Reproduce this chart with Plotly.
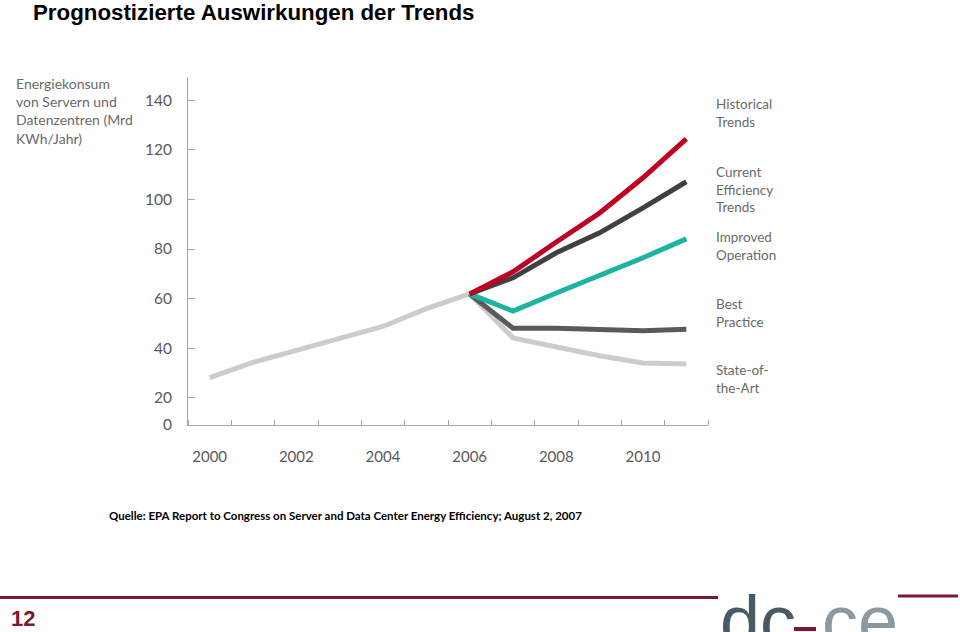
import plotly.graph_objects as go

years_hist = [2000, 2001, 2002, 2003, 2004, 2005, 2006]
historical = [28.2, 34.3, 39.2, 44.1, 48.8, 56.0, 61.9]

years_proj = [2006, 2007, 2008, 2009, 2010, 2011]
hist_trends = [61.9, 70.8, 82.8, 94.5, 108.7, 124.4]
current_eff = [61.9, 68.4, 78.5, 86.5, 96.6, 107.1]
improved_op = [61.9, 55.0, 62.3, 69.2, 76.5, 84.1]
best_practice = [61.9, 48.1, 48.1, 47.8, 47.1, 47.7]
state_of_art = [61.9, 44.2, 40.5, 37.0, 34.1, 33.7]

y_tickvals = [9.1, 20, 40, 60, 80, 100, 120, 140]
y_ticktext = ["0", "20", "40", "60", "80", "100", "120", "140"]
x_tickvals = [2000, 2002, 2004, 2006, 2008, 2010]

series_labels = ["Historical<br>Trends", "Current<br>Efficiency<br>Trends",
                 "Improved<br>Operation", "Best<br>Practice", "State-of-<br>the-Art"]

fig = go.Figure()

LW = 5
fig.add_trace(go.Scatter(x=years_proj, y=state_of_art, mode="lines",
                         line=dict(color="#CCCCCC", width=LW), showlegend=False))
fig.add_trace(go.Scatter(x=years_hist, y=historical, mode="lines",
                         line=dict(color="#CCCCCC", width=LW), showlegend=False))
fig.add_trace(go.Scatter(x=years_proj, y=best_practice, mode="lines",
                         line=dict(color="#5A5A5A", width=LW), showlegend=False))
fig.add_trace(go.Scatter(x=years_proj, y=improved_op, mode="lines",
                         line=dict(color="#1BB3A1", width=LW), showlegend=False))
fig.add_trace(go.Scatter(x=years_proj, y=current_eff, mode="lines",
                         line=dict(color="#404040", width=LW), showlegend=False))
fig.add_trace(go.Scatter(x=years_proj, y=hist_trends, mode="lines",
                         line=dict(color="#C00020", width=LW), showlegend=False))

AX = "#A6A6A6"
TXT = "#595959"
W, H = 960, 632
PL, PR, PT, PB = 188, 708, 77, 425  # plot area in page pixels

fig.update_layout(
    width=W, height=H,
    margin=dict(l=PL, r=W - PR, t=PT, b=H - PB),
    paper_bgcolor="white", plot_bgcolor="white",
    font=dict(family="Lato", color=TXT),
    xaxis=dict(range=[1999.5, 2011.5], tickvals=x_tickvals, ticks="",
               showline=True, linecolor=AX, linewidth=1, showgrid=False, zeroline=False,
               tickfont=dict(family="Lato", size=15, color=TXT), ticklabelstandoff=18,
               minor=dict(tick0=1999.5, dtick=1, ticks="inside", ticklen=5, tickcolor=AX, showgrid=False)),
    yaxis=dict(range=[9.1, 149.3], tickvals=y_tickvals, ticktext=y_ticktext,
               ticks="inside", ticklen=7, tickcolor=AX,
               showline=True, linecolor=AX, linewidth=1, showgrid=False, zeroline=False,
               tickfont=dict(family="Lato", size=15.5, color=TXT), ticklabelstandoff=12),
)


def px2x(p):
    return (p - PL) / (PR - PL)


def px2y(p):
    return 1 - (p - PT) / (PB - PT)


ann = []
ann.append(dict(text="<b>Prognostizierte Auswirkungen der Trends</b>", x=31, y=12,
                font=dict(family="Liberation Sans", size=22.3, color="black")))
ann.append(dict(text="Energiekonsum<br>von Servern und<br>Datenzentren (Mrd<br>KWh/Jahr)", x=14, y=111,
                font=dict(family="Lato", size=14, color="#6A6A6A"), align="left"))
label_pos = [(714, 113), (714, 189), (714, 246), (714, 313), (714, 379)]
for t, (lx, ly) in zip(series_labels, label_pos):
    ann.append(dict(text=t, x=lx, y=ly, font=dict(family="Lato", size=13.5, color="#6A6A6A"), align="left"))
ann.append(dict(text="<b>Quelle: EPA Report to Congress on Server and Data Center Energy Efficiency; August 2, 2007</b>",
                x=107, y=515, font=dict(family="Lato", size=11.5, color="black")))
ann.append(dict(text="<b>12</b>", x=9, y=618, font=dict(family="Liberation Sans", size=22, color="#7A1A30")))

annotations = []
for a in ann:
    d = dict(xref="paper", yref="paper", showarrow=False, xanchor="left", yanchor="middle")
    d.update(a)
    d["x"] = px2x(a["x"])
    d["y"] = px2y(a["y"])
    annotations.append(d)

# logo
logo = [("dc", 718, "#4A5A64"), ("ce", 820, "#8C99A1")]
for txt, lx, col in logo:
    annotations.append(dict(xref="paper", yref="paper", showarrow=False, xanchor="left", yanchor="top",
                            x=px2x(lx), y=px2y(579), text=txt,
                            font=dict(family="Liberation Sans", size=72, color=col)))
fig.update_layout(annotations=annotations)

RED = "#7A1A30"
shapes = [
    dict(type="line", xref="paper", yref="paper", x0=px2x(0), x1=px2x(718), y0=px2y(597.5), y1=px2y(597.5),
         line=dict(color=RED, width=3)),
    dict(type="line", xref="paper", yref="paper", x0=px2x(898), x1=px2x(958), y0=px2y(596), y1=px2y(596),
         line=dict(color=RED, width=3)),
    dict(type="rect", xref="paper", yref="paper", x0=px2x(794), x1=px2x(816), y0=px2y(631), y1=px2y(627),
         line=dict(width=0), fillcolor=RED),
]
fig.update_layout(shapes=shapes)

fig.write_html("out.html", config={"displayModeBar": False},
               post_script="document.body.style.margin='0';")
